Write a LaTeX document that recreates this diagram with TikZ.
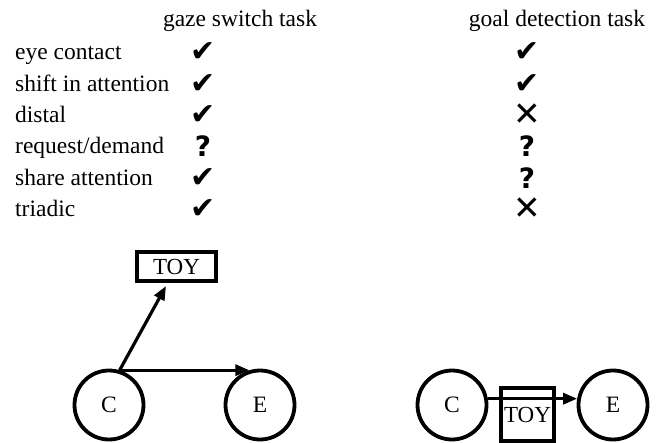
\documentclass[tikz,border=0pt]{standalone}
\usepackage{fontspec}
\setmainfont{Liberation Serif}
\newfontfamily\symfont{DejaVu Sans}
\newfontfamily\symbold{DejaVu Sans Bold}
\usetikzlibrary{arrows.meta}
\begin{document}
\begin{tikzpicture}[x=1pt,y=-1pt,
  lbl/.style={anchor=base west,inner sep=0pt,font=\fontsize{23.5}{28}\selectfont},
  hdr/.style={anchor=base,inner sep=0pt,font=\fontsize{23.5}{28}\selectfont},
  chk/.style={inner sep=0pt,font=\symfont\fontsize{30}{34}\selectfont},
  qst/.style={inner sep=0pt,font=\symbold\fontsize{28}{32}\selectfont},
  crs/.style={inner sep=0pt,font=\symfont\fontsize{33}{36}\selectfont},
  agent/.style={circle,draw,line width=3.8pt,minimum size=69pt,inner sep=0pt,font=\fontsize{23.5}{28}\selectfont},
  toybox/.style={draw,line width=3.2pt,inner sep=0pt,font=\fontsize{23}{28}\selectfont},
  arr/.style={line width=3.2pt,-{Triangle[length=14pt,width=11pt]}}]
\useasboundingbox (0,0) rectangle (663,443);
% headers
\node[hdr] (h1) at (240,27) {gaze switch task};
\node[hdr] (h2) at (557,27) {goal detection task};
% rows
\node[lbl] (r1) at (15,60) {eye contact};
\node[lbl] (r2) at (15,91.3) {shift in attention};
\node[lbl] (r3) at (15,122.6) {distal};
\node[lbl] (r4) at (15,153.9) {request/demand};
\node[lbl] (r5) at (15,185.2) {share attention};
\node[lbl] (r6) at (15,216.5) {triadic};
% gaze switch column
\node[chk] (g1) at (203,52) {✔};
\node[chk] (g2) at (203,84) {✔};
\node[chk] (g3) at (203,115) {✔};
\node[qst] (g4) at (203,146) {?};
\node[chk] (g5) at (203,178) {✔};
\node[chk] (g6) at (203,209) {✔};
% goal detection column
\node[chk] (d1) at (527,52) {✔};
\node[chk] (d2) at (527,84) {✔};
\node[crs] (d3) at (527,115) {✕};
\node[qst] (d4) at (527,146) {?};
\node[qst] (d5) at (527,178) {?};
\node[crs] (d6) at (527,209) {✕};
% left diagram
\node[agent] (C1) at (109,405) {C};
\node[agent] (E1) at (260,405) {E};
\node[toybox,minimum width=79pt,minimum height=29pt] (T1) at (176.5,266.5) {TOY};
\coordinate (t1) at (166,286);
\draw[arr] (C1.73) -- (t1);
\draw[arr] (C1.73) -- (E1.107);
% right diagram
\node[agent] (C2) at (452,405) {C};
\node[agent] (E2) at (613,405) {E};
\node[toybox,minimum width=53pt,minimum height=53pt,text depth=-6pt] (T2) at (527.5,414.5) {TOY};
\draw[arr] (C2.10) -- (E2.170);
\end{tikzpicture}
\end{document}
